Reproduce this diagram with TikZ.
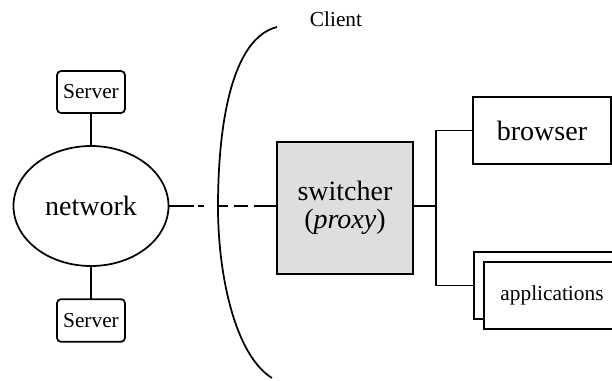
\documentclass[tikz,border=0pt]{standalone}
\usepackage{fontspec}
\setmainfont{Liberation Serif}
\usetikzlibrary{shapes.geometric}

\tikzset{
  box/.style={draw, line width=1.3pt, inner sep=0pt, outer sep=0pt},
  link/.style={line width=1.3pt},
  big/.style={font=\fontsize{21}{24}\selectfont},
  small/.style={font=\fontsize{16}{18}\selectfont},
}

\begin{document}
\begin{tikzpicture}[x=0.75pt,y=0.75pt,yscale=-1,xscale=1]
        \useasboundingbox (0,0) rectangle (612,380);

        %Shape: Ellipse (network)
        \node [box, ellipse, big, minimum width=116.25pt, minimum height=90pt] (net) at (91,206) {network};
        %Shape: Rounded Rectangles (servers)
        \node [box, small, rounded corners=3pt, minimum width=51pt, minimum height=31.5pt] (srvtop) at (91,92) {Server};
        \node [box, small, rounded corners=3pt, minimum width=51pt, minimum height=32pt] (srvbot) at (91,320.5) {Server};
        %Straight Lines
        \draw [link] (srvtop) -- (net);
        \draw [link] (net) -- (srvbot);

        %Curve: client bracket
        \draw [link] (277,27) .. controls (233,38) and (218,120) .. (218,207) .. controls (218,275) and (235,355) .. (272,378);
        % Text Node
        \node [small] (client) at (336,19) {Client};

        %Shape: Rectangle (switcher)
        \node [box, big, fill=black!13, minimum width=102pt, minimum height=99pt, align=center] (sw) at (345,208) {switcher\\[-3pt](\textit{proxy})};

        %Shape: Rectangles (browser, applications)
        \node [box, big, fill=white, minimum width=103.5pt, minimum height=50.25pt] (browser) at (542,130.5) {browser};
        \node [box, fill=white, minimum width=109.5pt, minimum height=50.25pt] (appsback) at (547,285.5) {};
        \node [box, small, fill=white, minimum width=102pt, minimum height=50.25pt] (apps) at (552,295.5) {applications};

        %Straight Lines
        \coordinate (bus) at (436,206);
        \draw [link, dash pattern=on 18.75pt off 3pt on 4.5pt off 10.5pt on 7.5pt off 4.5pt on 10.5pt off 4.5pt on 30pt] (net.east) -- (net.east -| sw.west);
        \draw [link] (sw.east |- bus) -- (bus);
        \draw [link] (browser.west) -| (bus) |- (appsback.west);

\end{tikzpicture}
\end{document}
